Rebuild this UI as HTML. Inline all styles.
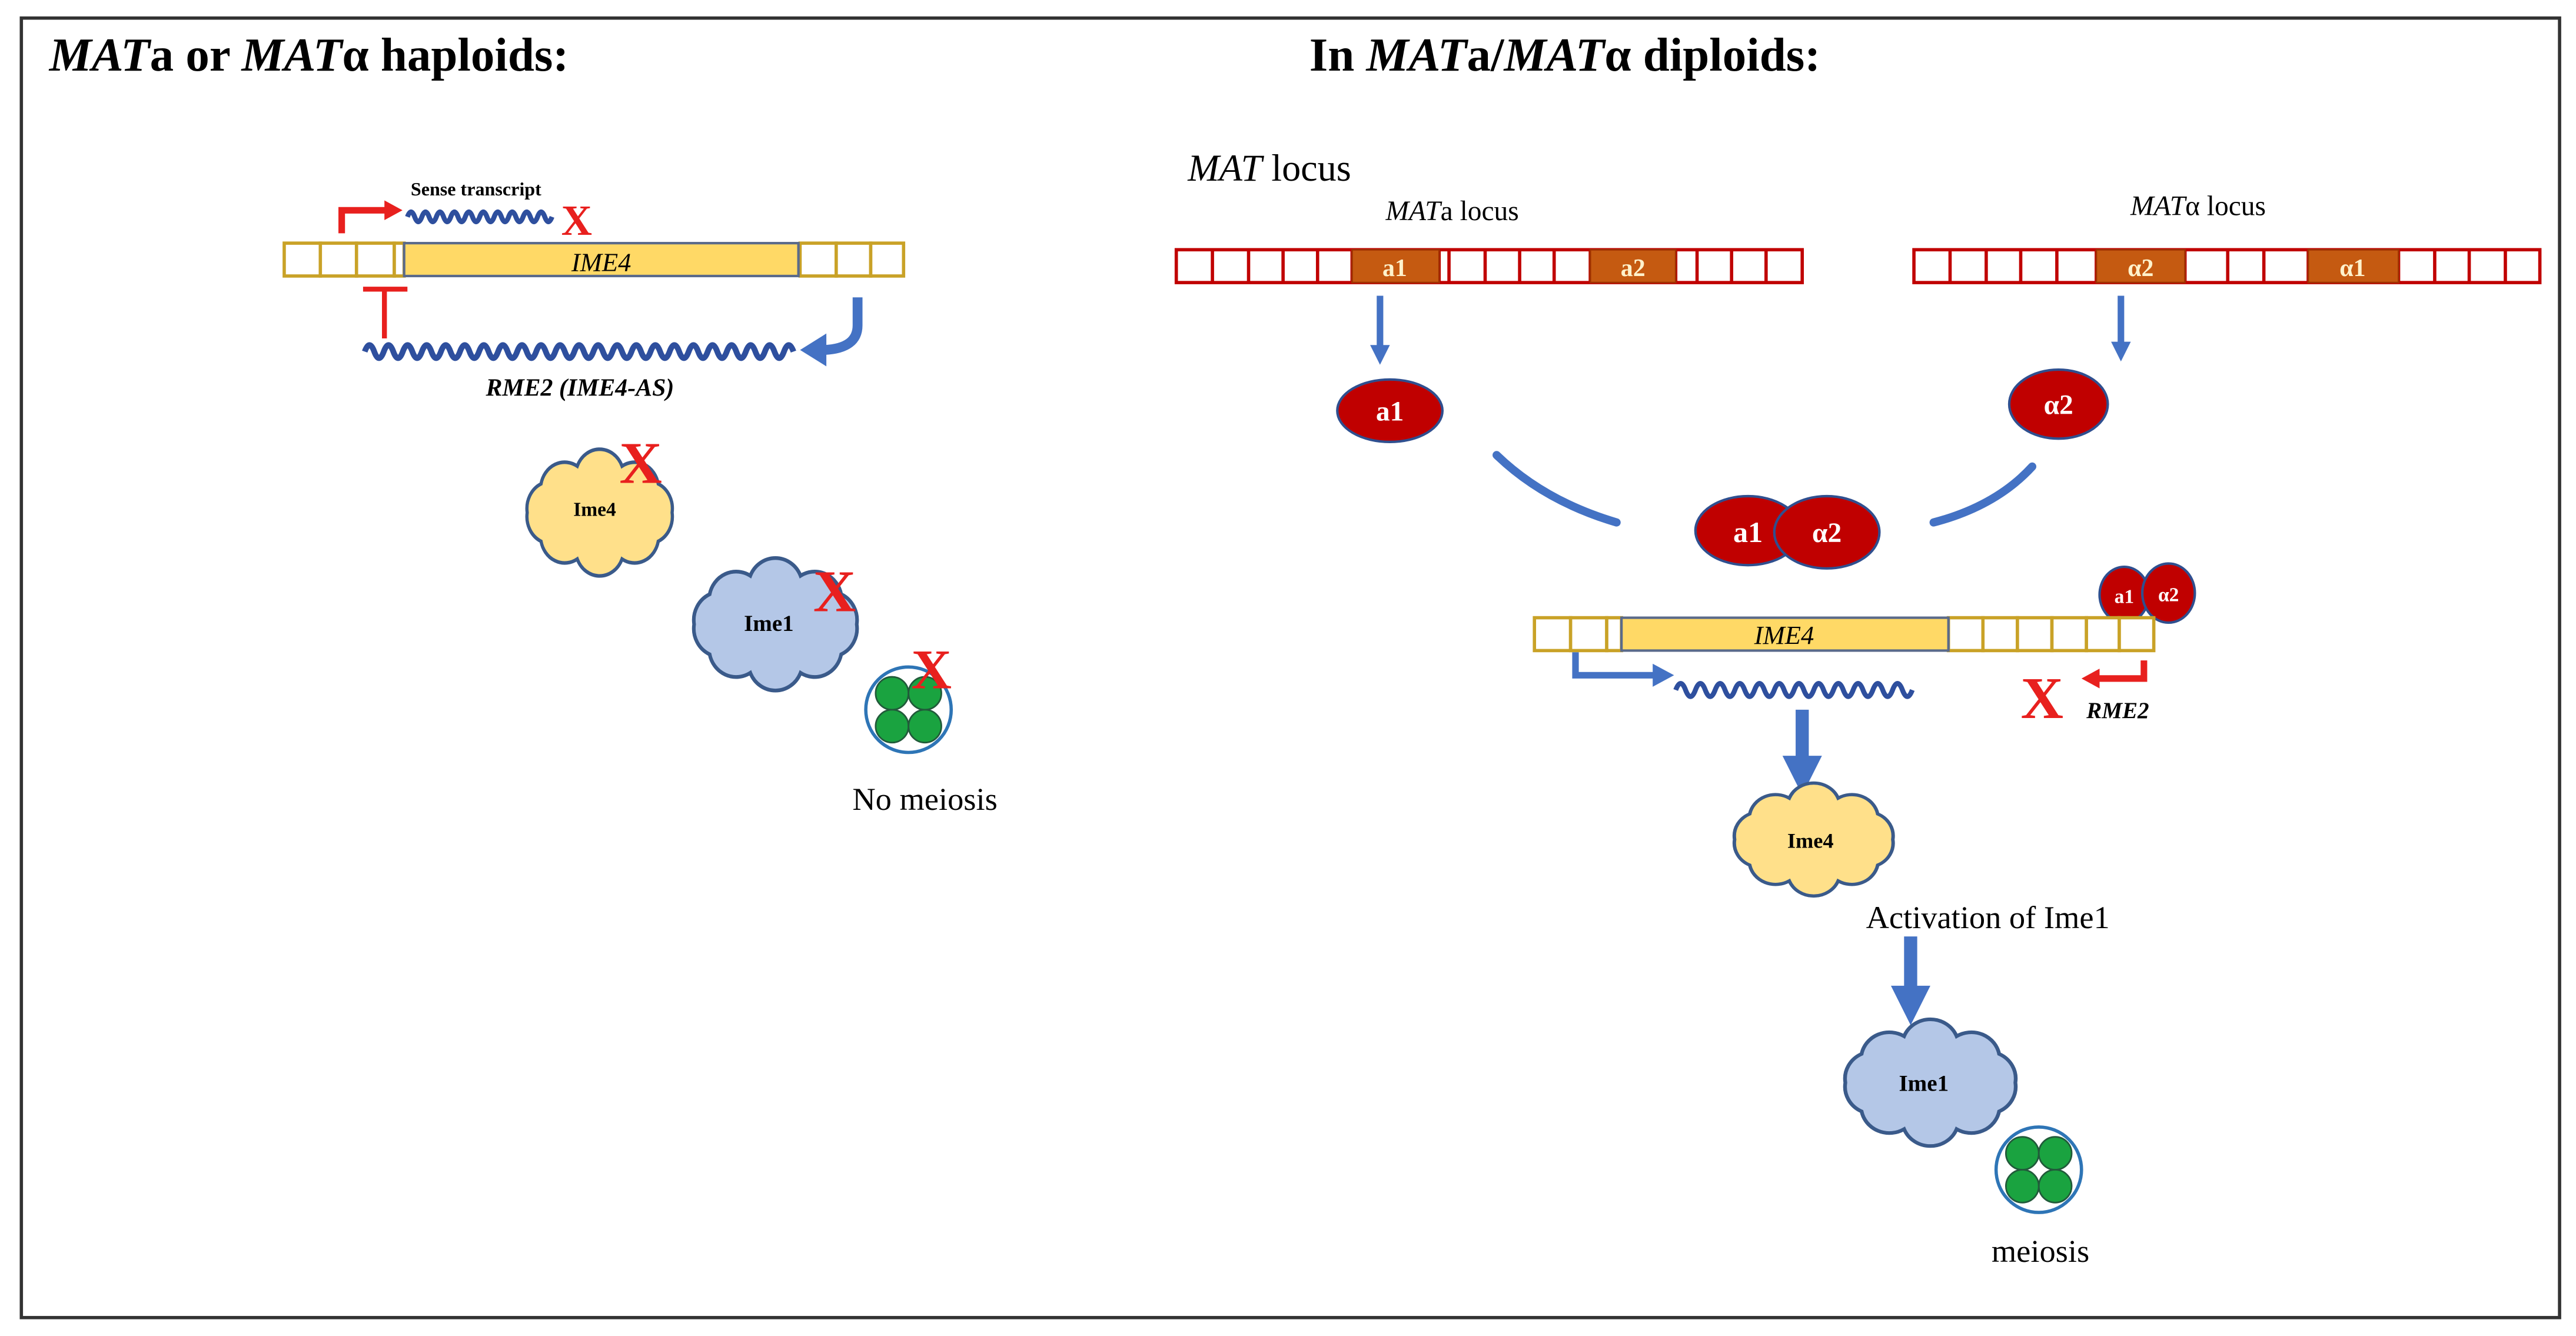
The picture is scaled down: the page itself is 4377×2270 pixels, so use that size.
<!DOCTYPE html>
<html><head><meta charset="utf-8"><style>
html,body{margin:0;padding:0;background:#fff;}
svg{display:block;}
text{font-family:"Liberation Serif",serif;}
</style></head><body>
<svg width="4377" height="2270" viewBox="0 0 1568 813.2" preserveAspectRatio="none" xmlns="http://www.w3.org/2000/svg">
<defs>
<path id="cloud" d="M45,0 A15,15 0 0 1 36.4,15.9 A15,15 0 0 1 13.9,25.7 A15,15 0 0 1 -13.9,25.7 A15,15 0 0 1 -36.4,15.9 A15,15 0 0 1 -45,0 A15,15 0 0 1 -36.4,-15.9 A15,15 0 0 1 -13.9,-25.7 A15,15 0 0 1 13.9,-25.7 A15,15 0 0 1 36.4,-15.9 A15,15 0 0 1 45,0 Z"/>
<g id="spore">
<circle r="26" fill="#fff" stroke="#2e75b6" stroke-width="2"/>
<circle cx="-10" cy="-10" r="10" fill="#1aa340" stroke="#215a3a" stroke-width="1"/>
<circle cx="10" cy="-10" r="10" fill="#1aa340" stroke="#215a3a" stroke-width="1"/>
<circle cx="-10" cy="10" r="10" fill="#1aa340" stroke="#215a3a" stroke-width="1"/>
<circle cx="10" cy="10" r="10" fill="#1aa340" stroke="#215a3a" stroke-width="1"/>
</g>
</defs>
<rect x="0" y="0" width="1568" height="813.2" fill="#fff"/>
<rect x="13" y="11" width="1545" height="791" fill="none" stroke="#333" stroke-width="2"/>

<text x="30" y="43" font-size="29" font-weight="bold"><tspan font-style="italic">MAT</tspan>a or <tspan font-style="italic">MAT</tspan>α haploids:</text>
<text x="797" y="43" font-size="29" font-weight="bold">In <tspan font-style="italic">MAT</tspan>a/<tspan font-style="italic">MAT</tspan>α diploids:</text>

<g fill="#fff" stroke="#c9a227" stroke-width="2">
<rect x="173" y="148" width="22" height="20"/><rect x="195" y="148" width="22" height="20"/><rect x="217" y="148" width="23" height="20"/>
<rect x="240" y="148" width="6" height="20"/>
<rect x="487" y="148" width="22" height="20"/><rect x="509" y="148" width="21" height="20"/><rect x="530" y="148" width="20" height="20"/>
</g>
<rect x="246" y="148" width="240" height="20" fill="#ffd966" stroke="#5a6a8a" stroke-width="1.5"/>
<text x="366" y="165" font-size="16" font-style="italic" text-anchor="middle">IME4</text>
<path d="M208,142 V128 H236" fill="none" stroke="#e8201e" stroke-width="4"/>
<path d="M234,122 L245,128 L234,134 Z" fill="#e8201e"/>
<text x="250" y="119" font-size="11.5" font-weight="bold">Sense transcript</text>
<path d="M248,132 q2.2,-6 4.4,0 t4.4,0 t4.4,0 t4.4,0 t4.4,0 t4.4,0 t4.4,0 t4.4,0 t4.4,0 t4.4,0 t4.4,0 t4.4,0 t4.4,0 t4.4,0 t4.4,0 t4.4,0 t4.4,0 t4.4,0 t4.4,0 t4.4,0" fill="none" stroke="#2e4f9e" stroke-width="3"/>
<text x="351" y="143" font-size="26" font-weight="bold" fill="#e8201e" text-anchor="middle">X</text>
<path d="M221,176 H248 M234,176 V206" stroke="#e8201e" stroke-width="3" fill="none"/>
<path d="M222,214 q2.9,-8 5.8,0 t5.8,0 t5.8,0 t5.8,0 t5.8,0 t5.8,0 t5.8,0 t5.8,0 t5.8,0 t5.8,0 t5.8,0 t5.8,0 t5.8,0 t5.8,0 t5.8,0 t5.8,0 t5.8,0 t5.8,0 t5.8,0 t5.8,0 t5.8,0 t5.8,0 t5.8,0 t5.8,0 t5.8,0 t5.8,0 t5.8,0 t5.8,0 t5.8,0 t5.8,0 t5.8,0 t5.8,0 t5.8,0 t5.8,0 t5.8,0 t5.8,0 t5.8,0 t5.8,0 t5.8,0 t5.8,0 t5.8,0 t5.8,0 t5.8,0 t5.8,0 t5.8,0" fill="none" stroke="#2e4f9e" stroke-width="3.5"/>
<path d="M522,181 V198 Q522,212 502,213" fill="none" stroke="#4472c4" stroke-width="6"/>
<path d="M503,203 L487,213 L503,223 Z" fill="#4472c4"/>
<text x="353" y="241" font-size="15" font-weight="bold" font-style="italic" text-anchor="middle">RME2 (IME4-AS)</text>

<g transform="translate(365,312) scale(0.98,1.1)"><use href="#cloud" fill="#ffe08a" stroke="#3a5a8a" stroke-width="2"/></g>
<text x="362" y="314" font-size="12" font-weight="bold" text-anchor="middle">Ime4</text>
<text x="390" y="294" font-size="36" font-weight="bold" fill="#e8201e" text-anchor="middle">X</text>
<g transform="translate(472,380) scale(1.1,1.15)"><use href="#cloud" fill="#b4c7e7" stroke="#3a5a8a" stroke-width="2"/></g>
<text x="468" y="384" font-size="14" font-weight="bold" text-anchor="middle">Ime1</text>
<text x="508" y="372" font-size="36" font-weight="bold" fill="#e8201e" text-anchor="middle">X</text>
<use href="#spore" x="553" y="432"/>
<text x="567" y="419" font-size="34" font-weight="bold" fill="#e8201e" text-anchor="middle">X</text>
<text x="563" y="493" font-size="19.5" text-anchor="middle">No meiosis</text>

<text x="723" y="110" font-size="23"><tspan font-style="italic">MAT</tspan> locus</text>
<text x="884" y="134" font-size="17" text-anchor="middle"><tspan font-style="italic">MAT</tspan>a locus</text>
<text x="1338" y="131" font-size="17" text-anchor="middle"><tspan font-style="italic">MAT</tspan>α locus</text>

<g fill="#fff" stroke="#c00000" stroke-width="2">
<rect x="716" y="152" width="381" height="20"/>
<rect x="1165" y="152" width="381" height="20"/>
</g>
<g stroke="#c00000" stroke-width="2">
<path d="M738,152V172 M760,152V172 M781,152V172 M802,152V172 M823,152V172 M876,152V172 M882,152V172 M904,152V172 M925,152V172 M946,152V172 M968,152V172 M1020,152V172 M1033,152V172 M1054,152V172 M1075,152V172"/>
<path d="M1187,152V172 M1209,152V172 M1230,152V172 M1252,152V172 M1276,152V172 M1330,152V172 M1356,152V172 M1378,152V172 M1405,152V172 M1460,152V172 M1482,152V172 M1503,152V172 M1525,152V172"/>
</g>
<g fill="#c55a11" stroke="#a03000" stroke-width="1">
<rect x="823" y="152" width="53" height="20"/><rect x="968" y="152" width="52" height="20"/>
<rect x="1276" y="152" width="54" height="20"/><rect x="1405" y="152" width="55" height="20"/>
</g>
<g fill="#fff2cc" font-size="15" font-weight="bold" text-anchor="middle">
<text x="849" y="168">a1</text><text x="994" y="168">a2</text><text x="1303" y="168">α2</text><text x="1432" y="168">α1</text>
</g>

<g stroke="#4472c4" stroke-width="4"><path d="M840,180V212"/><path d="M1291,180V210"/></g>
<g fill="#4472c4"><path d="M834,210 L840,222 L846,210Z"/><path d="M1285,208 L1291,220 L1297,208Z"/></g>

<g fill="#c00000" stroke="#2f4f8f" stroke-width="1.5">
<ellipse cx="846" cy="250" rx="32" ry="19"/>
<ellipse cx="1253" cy="246" rx="30" ry="21"/>
<ellipse cx="1064" cy="323" rx="32" ry="21"/>
<ellipse cx="1112" cy="324" rx="32" ry="22"/>
<ellipse cx="1293" cy="362" rx="15" ry="17"/>
<ellipse cx="1320" cy="361" rx="16" ry="18"/>
</g>
<g fill="#fff" font-weight="bold" text-anchor="middle">
<text x="846" y="256" font-size="17">a1</text>
<text x="1253" y="252" font-size="17">α2</text>
<text x="1064" y="330" font-size="18">a1</text>
<text x="1112" y="330" font-size="17">α2</text>
<text x="1293" y="367" font-size="12">a1</text>
<text x="1320" y="366" font-size="12">α2</text>
</g>

<path d="M911,277 Q940,305 984,318" fill="none" stroke="#4472c4" stroke-width="5" stroke-linecap="round"/>
<path d="M1237,284 Q1215,308 1177,318" fill="none" stroke="#4472c4" stroke-width="5" stroke-linecap="round"/>

<g fill="#fff" stroke="#c9a227" stroke-width="2">
<rect x="934" y="376" width="22" height="20"/><rect x="956" y="376" width="22" height="20"/><rect x="978" y="376" width="9" height="20"/>
<rect x="1186" y="376" width="21" height="20"/><rect x="1207" y="376" width="21" height="20"/><rect x="1228" y="376" width="21" height="20"/><rect x="1249" y="376" width="21" height="20"/><rect x="1270" y="376" width="20" height="20"/><rect x="1290" y="376" width="21" height="20"/>
</g>
<rect x="987" y="376" width="199" height="20" fill="#ffd966" stroke="#5a6a8a" stroke-width="1.5"/>
<text x="1086" y="392" font-size="16" font-style="italic" text-anchor="middle">IME4</text>
<path d="M959,397 V411 H1008" fill="none" stroke="#4472c4" stroke-width="4"/>
<path d="M1006,404 L1019,411 L1006,418 Z" fill="#4472c4"/>
<path d="M1020,420 q3,-8 6,0 t6,0 t6,0 t6,0 t6,0 t6,0 t6,0 t6,0 t6,0 t6,0 t6,0 t6,0 t6,0 t6,0 t6,0 t6,0 t6,0 t6,0 t6,0 t6,0 t6,0 t6,0 t6,0 t6,0" fill="none" stroke="#2e4f9e" stroke-width="3"/>
<path d="M1097,432 V462" stroke="#4472c4" stroke-width="8"/>
<path d="M1085,460 L1097,484 L1109,460 Z" fill="#4472c4"/>
<text x="1243" y="437" font-size="36" font-weight="bold" fill="#e8201e" text-anchor="middle">X</text>
<path d="M1305,402 V413 H1276" fill="none" stroke="#e8201e" stroke-width="4"/>
<path d="M1278,407 L1267,413 L1278,419 Z" fill="#e8201e"/>
<text x="1270" y="437" font-size="14" font-weight="bold" font-style="italic">RME2</text>

<g transform="translate(1104,511) scale(1.07,0.98)"><use href="#cloud" fill="#ffe08a" stroke="#3a5a8a" stroke-width="2"/></g>
<text x="1102" y="516" font-size="13" font-weight="bold" text-anchor="middle">Ime4</text>
<text x="1210" y="565" font-size="19.5" text-anchor="middle">Activation of Ime1</text>
<path d="M1163,570 V602" stroke="#4472c4" stroke-width="8"/>
<path d="M1151,600 L1163,624 L1175,600 Z" fill="#4472c4"/>
<g transform="translate(1175,659) scale(1.15,1.1)"><use href="#cloud" fill="#b4c7e7" stroke="#3a5a8a" stroke-width="2"/></g>
<text x="1171" y="664" font-size="14" font-weight="bold" text-anchor="middle">Ime1</text>
<use href="#spore" x="1241" y="712"/>
<text x="1242" y="768" font-size="19.5" text-anchor="middle">meiosis</text>
</svg>
</body></html>
